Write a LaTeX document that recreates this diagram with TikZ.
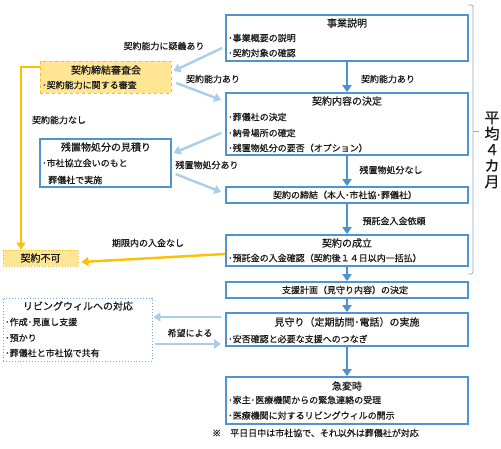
\documentclass[tikz,border=0pt]{standalone}
\usepackage{fontspec}
\setmainfont{Noto Sans CJK JP}[FakeBold=0.6]
\usetikzlibrary{arrows.meta}
\definecolor{boxblue}{HTML}{5193D0}
\definecolor{arrblue}{HTML}{4A92D4}
\definecolor{lightblue}{HTML}{A9CEEC}
\definecolor{ygold}{HTML}{FFC000}
\definecolor{yfill}{HTML}{FFE594}
\definecolor{brk}{HTML}{8EA9C8}
\definecolor{txt}{HTML}{1A1A1A}
\begin{document}
\begin{tikzpicture}[x=1pt,y=-1pt,
  mainbox/.style={draw=boxblue,line width=1.7pt,rectangle,inner sep=0pt,minimum width=242pt},
  sidebox/.style={draw=boxblue,line width=1.2pt,rectangle,inner sep=0pt},
  dotbox/.style={draw=boxblue!80,line width=0.9pt,dotted,rectangle,inner sep=0pt},
  ybox/.style={draw=ygold,fill=yfill,line width=0.8pt,dashed,rectangle,inner sep=0pt},
  ttl/.style={inner sep=0pt,text=txt,font=\fontsize{10}{12}\selectfont},
  bul/.style={inner sep=0pt,text=txt,anchor=west,font=\fontsize{9}{11}\selectfont},
  lbl/.style={inner sep=0pt,text=txt,font=\fontsize{9}{11}\selectfont},
  darr/.style={draw=arrblue,line width=2.6pt,-{Triangle[length=7pt,width=9pt]}},
  larr/.style={draw=lightblue,line width=2.4pt,-{Triangle[length=7pt,width=9pt]}},
  yarr/.style={draw=ygold,line width=2.4pt,-{Triangle[length=7pt,width=9pt]}}
]
\useasboundingbox (0,0) rectangle (501,449);
\fill[white] (0,0) rectangle (501,449);

% main column boxes
\node[mainbox,minimum height=46pt] (jigyo) at (347,38) {};
\node[ttl] (jigyoT) at (347,23) {事業説明};
\node[bul] (jigyo1) at (228,38) {･事業概要の説明};
\node[bul] (jigyo2) at (228,53) {･契約対象の確認};

\node[mainbox,minimum height=62pt] (naiyo) at (347,124) {};
\node[ttl] (naiyoT) at (347,101) {契約内容の決定};
\node[bul] (naiyo1) at (228,117) {･葬儀社の決定};
\node[bul] (naiyo2) at (228,133) {･納骨場所の確定};
\node[bul] (naiyo3) at (228,148) {･残置物処分の要否（オプション）};

\node[mainbox,minimum height=16pt] (teiketsu) at (347,195) {};
\node[lbl] (teiketsuT) at (345,195) {契約の締結（本人･市社協･葬儀社）};

\node[mainbox,minimum height=31pt] (seiritsu) at (347,250.5) {};
\node[ttl] (seiritsuT) at (347,243) {契約の成立};
\node[bul] (seiritsu1) at (228,258) {･預託金の入金確認（契約後１４日以内一括払）};

\node[mainbox,minimum height=16pt] (shien) at (347,290) {};
\node[lbl] (shienT) at (345,290) {支援計画（見守り内容）の決定};

\node[mainbox,minimum height=33pt] (mimamori) at (347,329.5) {};
\node[ttl] (mimamoriT) at (347,322) {見守り（定期訪問･電話）の実施};
\node[bul] (mimamori1) at (228,339) {･安否確認と必要な支援へのつなぎ};

\node[mainbox,minimum height=47pt] (kyuhen) at (347,400.5) {};
\node[ttl] (kyuhenT) at (347,386) {急変時};
\node[bul] (kyuhen1) at (228,400) {･家主･医療機関からの緊急連絡の受理};
\node[bul] (kyuhen2) at (228,415.5) {･医療機関に対するリビングウィルの開示};

\node[bul] (note) at (212,433) {※　平日日中は市社協で、それ以外は葬儀社が対応};

% left boxes
\node[ybox,minimum width=131pt,minimum height=32pt] (shinsa) at (105.5,77) {};
\node[ttl] (shinsaT) at (106,70) {契約締結審査会};
\node[bul] (shinsa1) at (42,85) {･契約能力に関する審査};

\node[sidebox,minimum width=131pt,minimum height=48pt] (zanchi) at (105.5,163) {};
\node[ttl] (zanchiT) at (106,147) {残置物処分の見積り};
\node[bul] (zanchi1) at (42,163) {･市社協立会いのもと};
\node[bul] (zanchi2) at (48,180) {葬儀社で実施};

\node[ybox,dotted,minimum width=75pt,minimum height=16pt] (fuka) at (40.5,258) {};
\node[ttl] (fukaT) at (40.5,258) {契約不可};

\node[dotbox,minimum width=149pt,minimum height=63pt] (living) at (77.5,329.5) {};
\node[ttl] (livingT) at (78,306) {リビングウィルへの対応};
\node[bul] (living1) at (5,322) {･作成･見直し支援};
\node[bul] (living2) at (5,338) {･預かり};
\node[bul] (living3) at (5,353) {･葬儀社と市社協で共有};

% dark blue arrows
\draw[darr] (jigyo.south) -- (naiyo.north);
\draw[darr] (naiyo.south) -- (teiketsu.north);
\draw[darr] (teiketsu.south) -- (seiritsu.north);
\draw[darr] (seiritsu.south) -- (shien.north);
\draw[darr] (shien.south) -- (mimamori.north);
\draw[darr] (mimamori.south) -- (kyuhen.north);

\node[lbl] (l1) at (388,79) {契約能力あり};
\node[lbl] (l2) at (391,170) {残置物処分なし};
\node[lbl] (l3) at (394,221) {預託金入金依頼};

% light blue arrows
\draw[larr] ([xshift=-3pt,yshift=-10pt]jigyo.west) -- ([xshift=2pt,yshift=6pt]shinsa.east);
\draw[larr] ([xshift=5pt,yshift=-6pt]shinsa.east) -- ([xshift=-4pt,yshift=24pt]naiyo.west);
\draw[larr] ([xshift=-4pt,yshift=-9pt]naiyo.west) -- ([xshift=2pt,yshift=10pt]zanchi.east);
\draw[larr] ([xshift=4pt,yshift=-11pt]zanchi.east) -- ([xshift=-4pt,yshift=3pt]teiketsu.west);
\draw[larr] ([xshift=-4pt,yshift=12.5pt]mimamori.west) -- ([xshift=1pt,yshift=12.5pt]living.east);
\draw[larr] ([xshift=3pt,yshift=-14.5pt]living.east) -- ([xshift=-4pt,yshift=-14.5pt]mimamori.west);

\node[lbl] (l4) at (164,46) {契約能力に疑義あり};
\node[lbl] (l5) at (213,79) {契約能力あり};
\node[lbl] (l6) at (207,165) {残置物処分あり};
\node[lbl] (l7) at (190,333) {希望による};

% yellow connectors
\draw[yarr] ([yshift=10pt]shinsa.west) -- (21,67) -- (fuka.north -| 21,0);
\draw[yarr] ([yshift=-3.5pt]seiritsu.west) -- ([xshift=3pt,yshift=-4pt]fuka.east);
\node[lbl] (l8) at (59,120) {契約能力なし};
\node[lbl] (l9) at (148,243) {期限内の入金なし};

% bracket and period
\draw[brk,line width=0.9pt,rounded corners=1.5pt] (468,5) -- (473,5) -- (473,274) -- (468,274);
\draw[brk,line width=0.9pt] (473,131) -- (479,131);
\node[inner sep=0pt,text=txt,align=center,font=\fontsize{15}{16}\selectfont] (avg) at (492,150) {平\\均\\４\\カ\\月};
\end{tikzpicture}
\end{document}
